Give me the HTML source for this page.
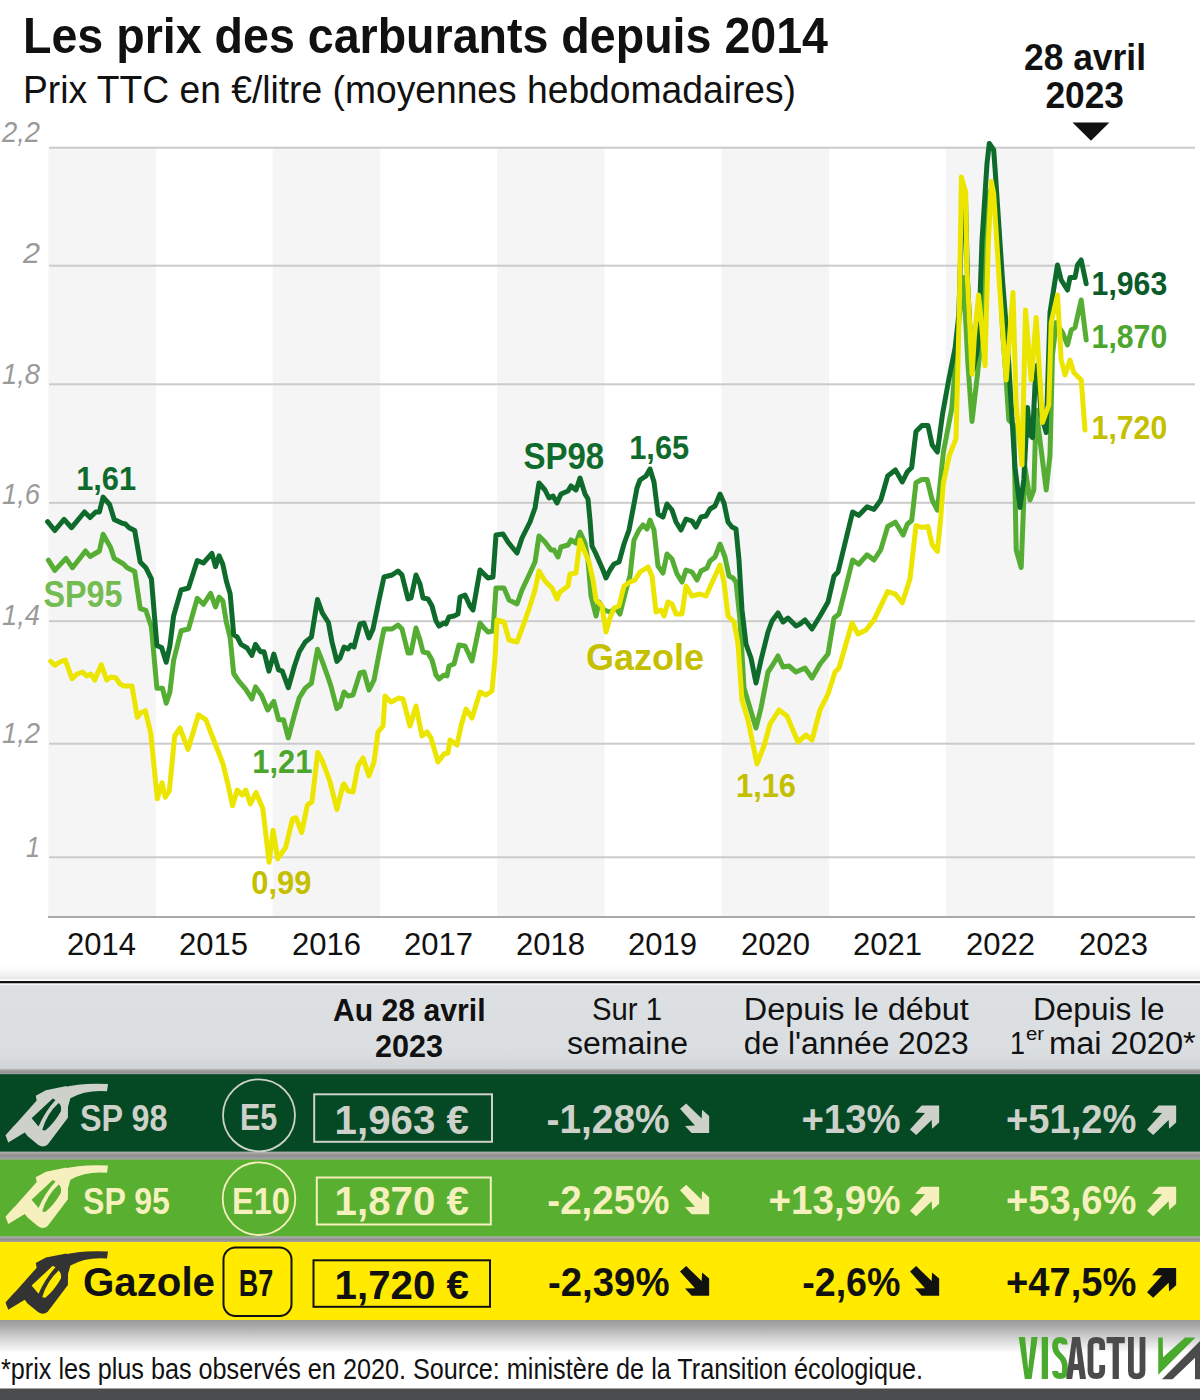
<!DOCTYPE html>
<html><head><meta charset="utf-8"><style>
html,body{margin:0;padding:0;background:#fff;}
body{width:1200px;height:1400px;overflow:hidden;position:relative;}
svg{position:absolute;left:0;top:0;display:block;}
text{font-family:"Liberation Sans", sans-serif;}
</style></head><body>
<svg width="1200" height="1400" viewBox="0 0 1200 1400">
<defs>
<linearGradient id="shTop" x1="0" y1="0" x2="0" y2="1"><stop offset="0" stop-color="#fff" stop-opacity="0"/><stop offset="1" stop-color="#e6e6e6"/></linearGradient>
<linearGradient id="shBot" x1="0" y1="0" x2="0" y2="1"><stop offset="0" stop-color="#999"/><stop offset="0.2" stop-color="#ababab"/><stop offset="0.55" stop-color="#d2d2d2"/><stop offset="1" stop-color="#fff"/></linearGradient>
<linearGradient id="shMid" x1="0" y1="0" x2="0" y2="1"><stop offset="0" stop-color="#b8b8b8"/><stop offset="0.5" stop-color="#8f8f8f"/><stop offset="1" stop-color="#a8a8a8"/></linearGradient>
<linearGradient id="hdr" x1="0" y1="0" x2="0" y2="1"><stop offset="0" stop-color="#dde0e3"/><stop offset="0.8" stop-color="#dbdee1"/><stop offset="1" stop-color="#cfd2d5"/></linearGradient>
</defs>
<rect x="0" y="0" width="1200" height="1400" fill="#fff"/>
<rect x="48.3" y="148" width="107.5" height="769" fill="#f5f5f5"/>
<rect x="272.7" y="148" width="107.5" height="769" fill="#f5f5f5"/>
<rect x="497.1" y="148" width="107.5" height="769" fill="#f5f5f5"/>
<rect x="721.5" y="148" width="107.5" height="769" fill="#f5f5f5"/>
<rect x="945.9" y="148" width="107.5" height="769" fill="#f5f5f5"/>
<rect x="49" y="146.7" width="1146" height="2" fill="#cbcbcb"/>
<rect x="49" y="264.7" width="1041" height="2" fill="#cbcbcb"/>
<rect x="49" y="383.3" width="1146" height="2" fill="#cbcbcb"/>
<rect x="49" y="501.8" width="1146" height="2" fill="#cbcbcb"/>
<rect x="49" y="620.2" width="1146" height="2" fill="#cbcbcb"/>
<rect x="49" y="742.7" width="1146" height="2" fill="#cbcbcb"/>
<rect x="49" y="856.3" width="1146" height="2" fill="#cbcbcb"/>
<rect x="48" y="916" width="1147" height="2" fill="#a9a9a9"/>
<text x="40" y="141.7" font-size="30" font-weight="normal" fill="#9a9a9a" text-anchor="end" font-style="italic" textLength="38" lengthAdjust="spacingAndGlyphs">2,2</text>
<text x="40" y="262.7" font-size="30" font-weight="normal" fill="#9a9a9a" text-anchor="end" font-style="italic" textLength="17" lengthAdjust="spacingAndGlyphs">2</text>
<text x="40" y="384.2" font-size="30" font-weight="normal" fill="#9a9a9a" text-anchor="end" font-style="italic" textLength="38" lengthAdjust="spacingAndGlyphs">1,8</text>
<text x="40" y="504.2" font-size="30" font-weight="normal" fill="#9a9a9a" text-anchor="end" font-style="italic" textLength="38" lengthAdjust="spacingAndGlyphs">1,6</text>
<text x="40" y="625" font-size="30" font-weight="normal" fill="#9a9a9a" text-anchor="end" font-style="italic" textLength="38" lengthAdjust="spacingAndGlyphs">1,4</text>
<text x="40" y="742.5" font-size="30" font-weight="normal" fill="#9a9a9a" text-anchor="end" font-style="italic" textLength="38" lengthAdjust="spacingAndGlyphs">1,2</text>
<text x="40" y="856.7" font-size="30" font-weight="normal" fill="#9a9a9a" text-anchor="end" font-style="italic" textLength="14" lengthAdjust="spacingAndGlyphs">1</text>
<text x="67" y="955" font-size="31" font-weight="normal" fill="#111" text-anchor="start" textLength="69" lengthAdjust="spacingAndGlyphs">2014</text>
<text x="179" y="955" font-size="31" font-weight="normal" fill="#111" text-anchor="start" textLength="69" lengthAdjust="spacingAndGlyphs">2015</text>
<text x="292" y="955" font-size="31" font-weight="normal" fill="#111" text-anchor="start" textLength="69" lengthAdjust="spacingAndGlyphs">2016</text>
<text x="404" y="955" font-size="31" font-weight="normal" fill="#111" text-anchor="start" textLength="69" lengthAdjust="spacingAndGlyphs">2017</text>
<text x="516" y="955" font-size="31" font-weight="normal" fill="#111" text-anchor="start" textLength="69" lengthAdjust="spacingAndGlyphs">2018</text>
<text x="628" y="955" font-size="31" font-weight="normal" fill="#111" text-anchor="start" textLength="69" lengthAdjust="spacingAndGlyphs">2019</text>
<text x="741" y="955" font-size="31" font-weight="normal" fill="#111" text-anchor="start" textLength="69" lengthAdjust="spacingAndGlyphs">2020</text>
<text x="853" y="955" font-size="31" font-weight="normal" fill="#111" text-anchor="start" textLength="69" lengthAdjust="spacingAndGlyphs">2021</text>
<text x="966" y="955" font-size="31" font-weight="normal" fill="#111" text-anchor="start" textLength="69" lengthAdjust="spacingAndGlyphs">2022</text>
<text x="1079" y="955" font-size="31" font-weight="normal" fill="#111" text-anchor="start" textLength="69" lengthAdjust="spacingAndGlyphs">2023</text>
<path d="M48.4,560.2 L54.8,570.4 L66.0,558.4 L72.5,567.7 L85.5,551.0 L90.1,556.5 L99.4,551.0 L103.1,534.2 L110.5,547.2 L114.2,558.4 L123.5,564.0 L127.2,567.7 L134.7,571.4 L140.2,608.5 L145.8,610.3 L151.4,627.0 L156.9,688.3 L162.5,688.3 L166.2,703.2 L169.9,692.0 L173.6,660.5 L181.1,630.8 L188.5,629.0 L197.3,598.3 L203.4,604.3 L210.6,593.4 L215.5,606.8 L219.1,597.1 L222.8,600.7 L226.4,622.5 L230.1,637.1 L233.7,673.5 L238.6,680.8 L245.8,689.3 L251.9,699.0 L255.5,686.9 L261.6,695.4 L267.7,710.0 L273.8,701.4 L278.6,719.7 L283.5,719.7 L288.3,737.9 L294.4,714.8 L299.3,697.8 L305.3,688.1 L311.4,683.2 L317.5,649.2 L322.3,661.4 L328.4,678.4 L330.8,685.7 L336.9,708.7 L340.0,706.0 L344.0,692.0 L348.0,696.0 L353.0,695.0 L360.0,673.0 L364.0,672.0 L369.0,690.0 L374.0,680.0 L379.0,654.0 L384.0,629.0 L392.0,629.0 L398.0,625.0 L402.0,629.0 L408.0,653.0 L411.0,653.0 L416.0,628.0 L420.0,640.0 L423.0,652.0 L428.0,653.0 L432.0,660.0 L436.0,675.0 L439.0,679.0 L444.0,675.0 L447.0,676.0 L449.0,666.0 L454.0,664.0 L459.0,645.0 L465.0,646.0 L472.0,661.0 L480.0,623.0 L484.0,628.0 L488.0,632.0 L493.0,631.0 L496.0,588.0 L504.0,588.0 L509.0,600.0 L517.0,604.0 L522.0,590.0 L530.0,573.0 L535.0,562.0 L539.0,536.0 L545.0,542.0 L551.0,550.0 L554.0,550.0 L558.0,557.0 L561.0,547.0 L568.0,545.0 L571.0,540.0 L576.0,543.0 L580.0,532.0 L585.0,543.0 L588.0,560.0 L591.0,596.0 L596.0,616.0 L599.0,602.0 L604.0,610.0 L610.0,612.0 L616.0,608.0 L620.0,614.0 L626.0,590.0 L630.0,576.0 L634.0,540.0 L639.0,530.0 L643.0,525.0 L647.0,529.0 L650.0,520.0 L654.0,530.0 L658.0,566.0 L663.0,573.0 L667.0,554.0 L672.0,559.0 L677.0,574.0 L682.0,582.0 L686.0,570.0 L692.0,572.0 L697.0,580.0 L701.0,571.0 L707.0,568.0 L710.0,561.0 L715.0,557.0 L720.0,544.0 L725.0,557.0 L729.0,576.0 L733.0,578.0 L736.0,582.0 L740.0,620.0 L744.0,688.0 L750.0,708.0 L756.0,728.0 L761.0,708.0 L768.0,672.0 L772.0,666.0 L778.0,656.0 L783.0,667.0 L789.0,666.0 L796.0,672.0 L805.0,668.0 L812.0,678.0 L820.0,664.0 L828.0,654.0 L834.0,618.0 L839.0,614.0 L852.6,560.0 L858.6,564.2 L867.1,554.8 L874.0,560.0 L880.8,549.6 L887.7,526.5 L895.4,522.2 L903.1,535.0 L907.4,524.0 L911.7,520.5 L916.0,482.8 L922.0,479.4 L927.1,479.4 L932.2,500.0 L937.4,510.2 L943.4,452.0 L951.8,408.4 L958.5,324.6 L963.5,277.6 L967.9,363.6 L972.0,421.4 L977.5,374.3 L982.0,331.3 L987.0,197.0 L992.0,187.0 L998.7,230.6 L1002.5,330.0 L1006.2,380.0 L1008.8,420.0 L1013.8,425.0 L1016.2,550.0 L1021.2,567.5 L1025.0,467.5 L1030.0,500.0 L1033.8,490.0 L1036.2,410.0 L1041.2,450.0 L1046.2,490.0 L1050.0,455.0 L1052.5,355.0 L1056.2,322.5 L1062.5,332.5 L1067.5,345.0 L1071.2,330.0 L1075.0,327.5 L1081.2,300.0 L1086.2,340.0" fill="none" stroke="#55ae33" stroke-width="5" stroke-linejoin="round" stroke-linecap="round"/>
<path d="M47.6,521.7 L54.8,530.5 L64.1,519.4 L71.6,527.7 L84.5,512.0 L90.1,517.5 L95.7,512.0 L99.4,512.0 L103.1,497.1 L109.6,504.5 L114.2,519.4 L121.7,523.1 L125.4,524.0 L129.1,527.7 L134.7,530.5 L140.2,562.0 L145.8,567.7 L151.4,578.8 L156.9,645.6 L161.6,647.5 L166.2,662.3 L169.9,645.6 L173.6,615.9 L181.1,590.0 L188.5,588.0 L197.3,560.6 L203.4,563.0 L211.9,553.4 L215.5,566.7 L219.1,555.8 L222.8,564.3 L226.4,581.3 L230.1,593.4 L233.7,634.7 L237.3,637.1 L241.0,644.4 L247.1,648.0 L251.9,655.3 L255.5,644.4 L260.4,651.7 L264.0,651.7 L268.9,671.1 L273.8,654.1 L278.6,669.9 L282.3,671.1 L288.3,687.7 L294.4,666.2 L299.3,651.7 L305.3,642.0 L311.4,637.1 L317.5,599.5 L322.3,612.8 L328.4,622.5 L332.0,642.0 L336.9,661.4 L340.0,658.0 L344.0,647.0 L348.0,649.0 L351.0,645.0 L354.0,647.0 L360.0,624.0 L364.0,623.0 L369.0,638.0 L373.0,629.0 L379.0,600.0 L384.0,577.0 L392.0,575.0 L398.0,571.0 L402.0,575.0 L408.0,599.0 L411.0,598.0 L416.0,575.0 L420.0,584.0 L423.0,598.0 L428.0,599.0 L432.0,606.0 L436.0,621.0 L439.0,626.0 L444.0,623.0 L446.0,624.0 L449.0,617.0 L454.0,616.0 L458.0,614.0 L460.0,597.0 L465.0,595.0 L470.0,606.0 L473.0,610.0 L480.0,570.0 L484.0,574.0 L488.0,578.0 L493.0,577.0 L496.0,535.0 L503.0,534.0 L508.0,542.0 L512.0,547.0 L517.0,553.0 L522.0,538.0 L530.0,522.0 L535.0,508.0 L539.0,483.0 L545.0,490.0 L549.0,498.0 L553.0,496.0 L557.0,503.0 L561.0,494.0 L568.0,491.0 L571.0,486.0 L576.0,490.0 L580.0,478.0 L585.0,494.0 L588.0,499.0 L590.0,520.0 L592.0,546.0 L596.0,554.0 L599.0,561.0 L603.0,570.0 L606.0,578.0 L610.0,570.0 L614.0,564.0 L619.0,562.0 L624.0,544.0 L629.0,530.0 L634.0,504.0 L637.0,488.0 L640.0,480.0 L646.0,476.0 L650.0,469.0 L654.0,482.0 L658.0,514.0 L663.0,517.0 L667.0,504.0 L672.0,510.0 L676.0,522.0 L681.0,530.0 L686.0,519.0 L692.0,521.0 L696.0,527.0 L701.0,517.0 L706.0,516.0 L710.0,509.0 L715.0,506.0 L720.0,494.0 L724.0,503.0 L728.0,522.0 L732.0,527.0 L736.0,529.0 L739.0,560.0 L742.0,610.0 L746.0,644.0 L751.0,658.0 L756.0,683.0 L761.0,660.0 L768.0,632.0 L772.0,621.0 L778.0,613.0 L783.0,622.0 L788.0,618.0 L796.0,626.0 L800.0,624.0 L805.0,620.0 L812.0,629.0 L820.0,616.0 L828.0,602.0 L834.0,576.0 L838.0,572.0 L852.6,512.0 L858.6,515.4 L867.1,506.8 L874.0,509.4 L880.8,500.0 L887.7,476.0 L895.4,470.0 L902.3,482.0 L907.4,471.7 L911.7,467.4 L916.0,431.4 L922.0,425.4 L928.0,425.4 L932.2,445.1 L937.4,452.0 L942.5,414.3 L948.4,381.6 L955.1,348.0 L958.8,315.0 L960.5,260.0 L962.5,215.0 L965.5,200.0 L967.5,280.0 L970.5,340.0 L973.0,370.0 L977.0,352.0 L978.6,338.0 L982.0,240.7 L987.0,163.5 L989.3,143.4 L993.7,150.0 L995.4,173.6 L1002.5,280.0 L1007.5,342.5 L1011.2,405.0 L1015.0,467.5 L1020.0,507.5 L1023.8,480.0 L1027.5,407.5 L1030.0,435.0 L1032.5,437.5 L1035.0,385.0 L1037.5,365.0 L1041.2,415.0 L1046.2,432.5 L1050.0,312.5 L1057.5,265.0 L1061.2,280.0 L1067.5,290.0 L1070.0,277.5 L1075.0,277.5 L1077.5,265.0 L1081.2,260.0 L1086.2,283.8" fill="none" stroke="#0f6b2c" stroke-width="5" stroke-linejoin="round" stroke-linecap="round"/>
<path d="M50.7,661.3 L54.7,665.3 L60.0,662.0 L65.3,660.0 L72.0,678.7 L77.0,674.0 L82.7,672.0 L86.7,676.0 L91.0,674.0 L94.7,680.0 L101.3,664.7 L106.7,680.0 L111.0,677.0 L116.0,678.0 L120.0,684.0 L124.0,686.0 L132.0,686.0 L137.3,717.3 L140.5,713.0 L145.3,710.7 L150.7,733.0 L157.3,798.7 L162.0,782.7 L165.3,797.3 L169.3,790.7 L174.7,736.0 L180.0,728.0 L188.0,749.3 L198.5,714.8 L205.8,719.7 L214.3,741.5 L222.8,763.4 L227.6,782.8 L232.5,805.8 L237.3,790.1 L242.2,794.9 L245.8,790.1 L250.3,804.0 L256.0,792.5 L262.8,808.5 L269.1,862.2 L273.1,830.2 L277.7,858.8 L285.7,847.4 L292.5,818.8 L296.0,817.7 L301.7,832.5 L307.4,805.1 L312.0,801.7 L317.7,752.6 L322.2,760.6 L329.6,780.3 L336.9,809.5 L343.0,785.2 L344.0,784.0 L348.0,791.0 L353.0,792.0 L358.0,766.0 L363.0,758.0 L369.0,776.0 L374.0,762.0 L378.0,732.0 L383.0,726.0 L385.0,696.0 L391.0,702.0 L399.0,698.0 L403.0,699.0 L410.0,726.0 L416.0,706.0 L422.0,736.0 L427.0,732.0 L431.0,738.0 L438.0,762.0 L444.0,754.0 L448.0,753.0 L450.0,740.0 L457.0,745.0 L461.0,726.0 L466.0,709.0 L472.0,718.0 L480.0,692.0 L486.0,695.0 L492.0,691.0 L495.0,658.0 L497.0,620.0 L504.0,622.0 L509.0,640.0 L517.0,642.0 L523.0,626.0 L530.0,606.0 L535.0,590.0 L539.0,571.0 L545.0,581.0 L552.0,588.0 L557.0,599.0 L560.0,592.0 L568.0,586.0 L570.0,574.0 L576.0,573.0 L580.0,540.0 L584.0,550.0 L589.0,562.0 L593.0,580.0 L596.0,600.0 L602.0,606.0 L606.0,632.0 L610.0,618.0 L614.0,608.0 L619.0,606.0 L624.0,586.0 L630.0,582.0 L635.0,580.0 L640.0,572.0 L648.0,567.0 L652.0,576.0 L656.0,612.0 L661.0,610.0 L664.0,616.0 L668.0,602.0 L672.0,604.0 L676.0,614.0 L682.0,614.0 L686.0,586.0 L692.0,596.0 L700.0,594.0 L706.0,596.0 L720.0,565.0 L724.0,582.0 L728.0,616.0 L734.0,622.0 L738.0,644.0 L742.0,700.0 L748.0,720.0 L757.0,764.0 L764.0,746.0 L770.0,724.0 L779.0,710.0 L787.0,716.0 L798.0,742.0 L806.0,735.0 L812.0,740.0 L820.0,710.0 L828.0,694.0 L835.0,672.0 L839.0,668.0 L852.0,623.0 L858.0,634.0 L866.0,630.0 L874.0,619.9 L887.7,591.6 L895.4,594.2 L902.3,602.8 L910.0,578.8 L916.0,525.6 L922.0,527.4 L928.0,526.5 L932.2,544.5 L937.4,551.4 L940.8,517.0 L943.4,482.8 L949.4,455.4 L956.0,438.6 L959.3,310.0 L961.4,177.1 L965.7,192.0 L966.8,267.0 L970.0,331.4 L972.1,374.3 L974.3,337.8 L978.6,295.0 L981.8,327.0 L985.0,365.7 L988.2,245.7 L991.4,181.4 L993.7,193.7 L1000.0,292.5 L1006.2,380.0 L1013.0,292.5 L1016.2,405.0 L1022.0,465.0 L1025.5,310.0 L1031.2,380.0 L1036.2,317.5 L1042.5,422.5 L1048.8,405.0 L1051.2,322.5 L1057.5,295.0 L1061.2,360.0 L1065.0,375.0 L1070.0,360.0 L1073.8,372.5 L1081.2,380.0 L1085.0,430.0" fill="none" stroke="#ece500" stroke-width="5" stroke-linejoin="round" stroke-linecap="round"/>
<text x="76.2" y="489.5" font-size="33.5" font-weight="bold" fill="#0f6b2c" text-anchor="start" textLength="59.9" lengthAdjust="spacingAndGlyphs">1,61</text>
<text x="43.5" y="607.3" font-size="36.5" font-weight="bold" fill="#74bb52" text-anchor="start" textLength="79" lengthAdjust="spacingAndGlyphs">SP95</text>
<text x="252.3" y="772.5" font-size="33.5" font-weight="bold" fill="#4ca62e" text-anchor="start" textLength="60.1" lengthAdjust="spacingAndGlyphs">1,21</text>
<text x="251.2" y="894.2" font-size="33.5" font-weight="bold" fill="#c4c000" text-anchor="start" textLength="60.2" lengthAdjust="spacingAndGlyphs">0,99</text>
<text x="523.4" y="468.6" font-size="37" font-weight="bold" fill="#0f6b2c" text-anchor="start" textLength="80.7" lengthAdjust="spacingAndGlyphs">SP98</text>
<text x="629.2" y="459.4" font-size="33.5" font-weight="bold" fill="#0f6b2c" text-anchor="start" textLength="60" lengthAdjust="spacingAndGlyphs">1,65</text>
<text x="586" y="670" font-size="36" font-weight="bold" fill="#c4c000" text-anchor="start" textLength="118" lengthAdjust="spacingAndGlyphs">Gazole</text>
<text x="736" y="797" font-size="33.5" font-weight="bold" fill="#c4c000" text-anchor="start" textLength="60" lengthAdjust="spacingAndGlyphs">1,16</text>
<rect x="1090" y="262" width="110" height="8" fill="#fff"/>
<text x="1091.6" y="295" font-size="33.5" font-weight="bold" fill="#0a5a2a" text-anchor="start" textLength="75.6" lengthAdjust="spacingAndGlyphs">1,963</text>
<text x="1091.6" y="348.2" font-size="33.5" font-weight="bold" fill="#4ca62e" text-anchor="start" textLength="75.6" lengthAdjust="spacingAndGlyphs">1,870</text>
<text x="1091.6" y="439.3" font-size="33.5" font-weight="bold" fill="#c4c000" text-anchor="start" textLength="75.6" lengthAdjust="spacingAndGlyphs">1,720</text>
<text x="23" y="52.5" font-size="50" font-weight="bold" fill="#111" text-anchor="start" textLength="805" lengthAdjust="spacingAndGlyphs">Les prix des carburants depuis 2014</text>
<text x="23" y="103" font-size="38" font-weight="normal" fill="#111" text-anchor="start" textLength="773" lengthAdjust="spacingAndGlyphs">Prix TTC en €/litre (moyennes hebdomadaires)</text>
<text x="1024" y="70" font-size="37" font-weight="bold" fill="#111" text-anchor="start" textLength="122" lengthAdjust="spacingAndGlyphs">28 avril</text>
<text x="1045.4" y="107.5" font-size="37" font-weight="bold" fill="#111" text-anchor="start" textLength="78.6" lengthAdjust="spacingAndGlyphs">2023</text>
<path d="M1072.5,122.5 L1109.4,122.5 L1091,140.8 Z" fill="#111"/>
<rect x="0" y="962" width="1200" height="17.5" fill="url(#shTop)"/>
<rect x="0" y="981" width="1200" height="2.3" fill="#111"/>
<rect x="0" y="984.8" width="1200" height="85.5" fill="url(#hdr)"/>
<rect x="0" y="1069" width="1200" height="6" fill="url(#shMid)"/>
<rect x="0" y="1151" width="1200" height="9" fill="url(#shMid)"/>
<rect x="0" y="1236" width="1200" height="7" fill="url(#shMid)"/>
<rect x="0" y="1074.2" width="1200" height="77.4" fill="#044924"/>
<rect x="0" y="1159.6" width="1200" height="76.7" fill="#58af30"/>
<rect x="0" y="1242" width="1200" height="78.4" fill="#ffea00"/>
<rect x="0" y="1320" width="1200" height="33" fill="url(#shBot)"/>
<text x="333" y="1020.5" font-size="31" font-weight="bold" fill="#111" text-anchor="start" textLength="152.6" lengthAdjust="spacingAndGlyphs">Au 28 avril</text>
<text x="375" y="1057" font-size="31" font-weight="bold" fill="#111" text-anchor="start" textLength="68" lengthAdjust="spacingAndGlyphs">2023</text>
<text x="592" y="1020" font-size="31" font-weight="normal" fill="#111" text-anchor="start" textLength="70" lengthAdjust="spacingAndGlyphs">Sur 1</text>
<text x="567" y="1054" font-size="31" font-weight="normal" fill="#111" text-anchor="start" textLength="121" lengthAdjust="spacingAndGlyphs">semaine</text>
<text x="743.75" y="1019.6" font-size="31" font-weight="normal" fill="#111" text-anchor="start" textLength="225" lengthAdjust="spacingAndGlyphs">Depuis le début</text>
<text x="743.75" y="1054" font-size="31" font-weight="normal" fill="#111" text-anchor="start" textLength="225" lengthAdjust="spacingAndGlyphs">de l'année 2023</text>
<text x="1033" y="1019.6" font-size="31" font-weight="normal" fill="#111" text-anchor="start" textLength="131.6" lengthAdjust="spacingAndGlyphs">Depuis le</text>
<text x="1010" y="1054" font-size="31" font-weight="normal" fill="#111" text-anchor="start" textLength="15" lengthAdjust="spacingAndGlyphs">1</text>
<text x="1026" y="1040" font-size="18" font-weight="normal" fill="#111" text-anchor="start" textLength="18" lengthAdjust="spacingAndGlyphs">er</text>
<text x="1049" y="1054" font-size="31" font-weight="normal" fill="#111" text-anchor="start" textLength="146.8" lengthAdjust="spacingAndGlyphs">mai 2020*</text>
<g transform="translate(0,1076.5)" fill="#cdd1c9"><path d="M62.5,11.2 Q80,6.3 108,7.6 L107,14.8 Q86,13 70.5,21.8 Z"/><path fill-rule="evenodd" d="M35.75,19.25 L45.9,13.75 L66.5,9.6 L70.5,21.5 L68,30.3 L67.9,41.3 L47.7,67.9 Q43.1,71.8 38,68.3 L27.5,59.6 L24.75,56 L8.25,66 L5.5,58.7 L13.75,49.5 L15.6,47.7 L36.7,23.9 Z M31.6,41.7 L52.75,22 L55.5,23.5 Q45,35 38.5,50 Z M42.2,53.5 Q47,37 58.7,26.6 Q62,29.5 60.8,35 Q54,47 45.2,54 Z"/></g>
<g transform="translate(0,1158)" fill="#f5f0bd"><path d="M62.5,11.2 Q80,6.3 108,7.6 L107,14.8 Q86,13 70.5,21.8 Z"/><path fill-rule="evenodd" d="M35.75,19.25 L45.9,13.75 L66.5,9.6 L70.5,21.5 L68,30.3 L67.9,41.3 L47.7,67.9 Q43.1,71.8 38,68.3 L27.5,59.6 L24.75,56 L8.25,66 L5.5,58.7 L13.75,49.5 L15.6,47.7 L36.7,23.9 Z M31.6,41.7 L52.75,22 L55.5,23.5 Q45,35 38.5,50 Z M42.2,53.5 Q47,37 58.7,26.6 Q62,29.5 60.8,35 Q54,47 45.2,54 Z"/></g>
<g transform="translate(0,1243.8)" fill="#333"><path d="M62.5,11.2 Q80,6.3 108,7.6 L107,14.8 Q86,13 70.5,21.8 Z"/><path fill-rule="evenodd" d="M35.75,19.25 L45.9,13.75 L66.5,9.6 L70.5,21.5 L68,30.3 L67.9,41.3 L47.7,67.9 Q43.1,71.8 38,68.3 L27.5,59.6 L24.75,56 L8.25,66 L5.5,58.7 L13.75,49.5 L15.6,47.7 L36.7,23.9 Z M31.6,41.7 L52.75,22 L55.5,23.5 Q45,35 38.5,50 Z M42.2,53.5 Q47,37 58.7,26.6 Q62,29.5 60.8,35 Q54,47 45.2,54 Z"/></g>
<text x="80" y="1130.8" font-size="36" font-weight="bold" fill="#cdd1c9" text-anchor="start" textLength="87.5" lengthAdjust="spacingAndGlyphs">SP 98</text>
<text x="83" y="1214" font-size="36" font-weight="bold" fill="#f5f0bd" text-anchor="start" textLength="87" lengthAdjust="spacingAndGlyphs">SP 95</text>
<text x="83" y="1296" font-size="40" font-weight="bold" fill="#111" text-anchor="start" textLength="132" lengthAdjust="spacingAndGlyphs">Gazole</text>
<circle cx="259" cy="1115.3" r="36" fill="none" stroke="#cdd1c9" stroke-width="1.8"/>
<text x="240" y="1130" font-size="36" font-weight="bold" fill="#cdd1c9" text-anchor="start" textLength="37.3" lengthAdjust="spacingAndGlyphs">E5</text>
<circle cx="259" cy="1198.7" r="36.3" fill="none" stroke="#f5f0bd" stroke-width="1.8"/>
<text x="232" y="1214" font-size="36" font-weight="bold" fill="#f5f0bd" text-anchor="start" textLength="58" lengthAdjust="spacingAndGlyphs">E10</text>
<rect x="223.5" y="1247.5" width="68" height="68.5" rx="12" fill="none" stroke="#111" stroke-width="2"/>
<text x="238.7" y="1296" font-size="36" font-weight="bold" fill="#111" text-anchor="start" textLength="34.6" lengthAdjust="spacingAndGlyphs">B7</text>
<rect x="314.2" y="1094.3" width="177.8" height="47.5" fill="none" stroke="#cdd1c9" stroke-width="2"/>
<text x="334.6" y="1134" font-size="41" font-weight="bold" fill="#cdd1c9" text-anchor="start" textLength="134.4" lengthAdjust="spacingAndGlyphs">1,963 €</text>
<rect x="316.8" y="1177.5" width="174" height="47" fill="none" stroke="#f5f0bd" stroke-width="2"/>
<text x="334.6" y="1214.8" font-size="41" font-weight="bold" fill="#f5f0bd" text-anchor="start" textLength="134.4" lengthAdjust="spacingAndGlyphs">1,870 €</text>
<rect x="313.5" y="1260.3" width="176.5" height="46.5" fill="none" stroke="#111" stroke-width="2"/>
<text x="334.6" y="1299.3" font-size="41" font-weight="bold" fill="#111" text-anchor="start" textLength="134.4" lengthAdjust="spacingAndGlyphs">1,720 €</text>
<text x="669.5" y="1133" font-size="40" font-weight="bold" fill="#cdd1c9" text-anchor="end" textLength="123" lengthAdjust="spacingAndGlyphs">-1,28%</text>
<path d="M680.00,1108.85 L686.20,1103.40 L701.65,1118.40 L702.10,1109.70 L709.15,1115.90 L709.15,1133.00 L691.65,1133.00 L685.00,1125.90 L695.00,1125.50 Z" fill="#cdd1c9"/>
<text x="900.5" y="1133" font-size="40" font-weight="bold" fill="#cdd1c9" text-anchor="end" textLength="99" lengthAdjust="spacingAndGlyphs">+13%</text>
<path d="M910.00,1129.55 L916.20,1135.00 L931.65,1120.00 L932.10,1128.70 L939.15,1122.50 L939.15,1105.40 L921.65,1105.40 L915.00,1112.50 L925.00,1112.90 Z" fill="#cdd1c9"/>
<text x="1136.4" y="1133" font-size="40" font-weight="bold" fill="#cdd1c9" text-anchor="end" textLength="130.4" lengthAdjust="spacingAndGlyphs">+51,2%</text>
<path d="M1147.00,1129.55 L1153.20,1135.00 L1168.65,1120.00 L1169.10,1128.70 L1176.15,1122.50 L1176.15,1105.40 L1158.65,1105.40 L1152.00,1112.50 L1162.00,1112.90 Z" fill="#cdd1c9"/>
<text x="669.5" y="1214.3" font-size="40" font-weight="bold" fill="#f5f0bd" text-anchor="end" textLength="122.2" lengthAdjust="spacingAndGlyphs">-2,25%</text>
<path d="M680.00,1190.15 L686.20,1184.70 L701.65,1199.70 L702.10,1191.00 L709.15,1197.20 L709.15,1214.30 L691.65,1214.30 L685.00,1207.20 L695.00,1206.80 Z" fill="#f5f0bd"/>
<text x="900.5" y="1214.3" font-size="40" font-weight="bold" fill="#f5f0bd" text-anchor="end" textLength="132" lengthAdjust="spacingAndGlyphs">+13,9%</text>
<path d="M910.00,1210.85 L916.20,1216.30 L931.65,1201.30 L932.10,1210.00 L939.15,1203.80 L939.15,1186.70 L921.65,1186.70 L915.00,1193.80 L925.00,1194.20 Z" fill="#f5f0bd"/>
<text x="1136.4" y="1214.3" font-size="40" font-weight="bold" fill="#f5f0bd" text-anchor="end" textLength="130.4" lengthAdjust="spacingAndGlyphs">+53,6%</text>
<path d="M1147.00,1210.85 L1153.20,1216.30 L1168.65,1201.30 L1169.10,1210.00 L1176.15,1203.80 L1176.15,1186.70 L1158.65,1186.70 L1152.00,1193.80 L1162.00,1194.20 Z" fill="#f5f0bd"/>
<text x="669.5" y="1295.7" font-size="40" font-weight="bold" fill="#111" text-anchor="end" textLength="121.5" lengthAdjust="spacingAndGlyphs">-2,39%</text>
<path d="M680.00,1271.55 L686.20,1266.10 L701.65,1281.10 L702.10,1272.40 L709.15,1278.60 L709.15,1295.70 L691.65,1295.70 L685.00,1288.60 L695.00,1288.20 Z" fill="#111"/>
<text x="900.5" y="1295.7" font-size="40" font-weight="bold" fill="#111" text-anchor="end" textLength="98.3" lengthAdjust="spacingAndGlyphs">-2,6%</text>
<path d="M910.00,1271.55 L916.20,1266.10 L931.65,1281.10 L932.10,1272.40 L939.15,1278.60 L939.15,1295.70 L921.65,1295.70 L915.00,1288.60 L925.00,1288.20 Z" fill="#111"/>
<text x="1136.4" y="1295.7" font-size="40" font-weight="bold" fill="#111" text-anchor="end" textLength="130.4" lengthAdjust="spacingAndGlyphs">+47,5%</text>
<path d="M1147.00,1292.25 L1153.20,1297.70 L1168.65,1282.70 L1169.10,1291.40 L1176.15,1285.20 L1176.15,1268.10 L1158.65,1268.10 L1152.00,1275.20 L1162.00,1275.60 Z" fill="#111"/>
<text x="1" y="1379.4" font-size="29" font-weight="normal" fill="#111" text-anchor="start" textLength="922" lengthAdjust="spacingAndGlyphs">*prix les plus bas observés en 2020. Source: ministère de la Transition écologique.</text>
<rect x="0" y="1388.5" width="1200" height="11.5" fill="#4a4c4e"/>
<path d="M1018.7,1337 L1025,1337 L1028.2,1369 L1031.4,1337 L1037.7,1337 L1031.6,1379 L1024.8,1379 Z" fill="#4aaa2e"/>
<rect x="1041.7" y="1337" width="6.3" height="42" fill="#4aaa2e"/>
<path d="M1064.8,1344.5 Q1064.8,1340 1060,1340 Q1055,1340 1055,1346 Q1055,1351 1059,1355 L1061,1357 Q1065,1361 1065,1368 L1065,1372 Q1065,1376 1060,1376 Q1055,1376 1055,1371" fill="none" stroke="#4aaa2e" stroke-width="5.8"/>
<path fill-rule="evenodd" d="M1066.2,1379 L1072.3,1337 L1080,1337 L1086,1379 L1080,1379 L1078.7,1370 L1073.5,1370 L1072.2,1379 Z M1074.2,1364 L1078,1364 L1076.1,1346 Z" fill="#4b4b4b"/>
<path d="M1102.2,1350 L1102.2,1344.5 Q1102.2,1340 1096.3,1340 Q1090.5,1340 1090.5,1345 L1090.5,1371 Q1090.5,1376 1096.3,1376 Q1102.2,1376 1102.2,1371 L1102.2,1365" fill="none" stroke="#4b4b4b" stroke-width="5.8"/>
<rect x="1106.6" y="1337" width="18.2" height="6.2" fill="#4b4b4b"/><rect x="1112.6" y="1337" width="6.3" height="42" fill="#4b4b4b"/>
<path d="M1130.9,1337 L1130.9,1371 Q1130.9,1376.3 1136.7,1376.3 Q1142.5,1376.3 1142.5,1371 L1142.5,1337" fill="none" stroke="#4b4b4b" stroke-width="5.8"/>
<path d="M1158.25,1337.5 L1162.75,1337.5 L1163,1357.25 L1185,1337.5 L1195.5,1337.5 L1158.25,1374.75 Z" fill="#4aaa2e"/>
<path d="M1162,1379.25 L1200,1341 L1200,1379.25 L1195,1379.25 L1195,1357.75 L1172.5,1379.25 Z" fill="#4b4b4b"/>
</svg>
</body></html>
